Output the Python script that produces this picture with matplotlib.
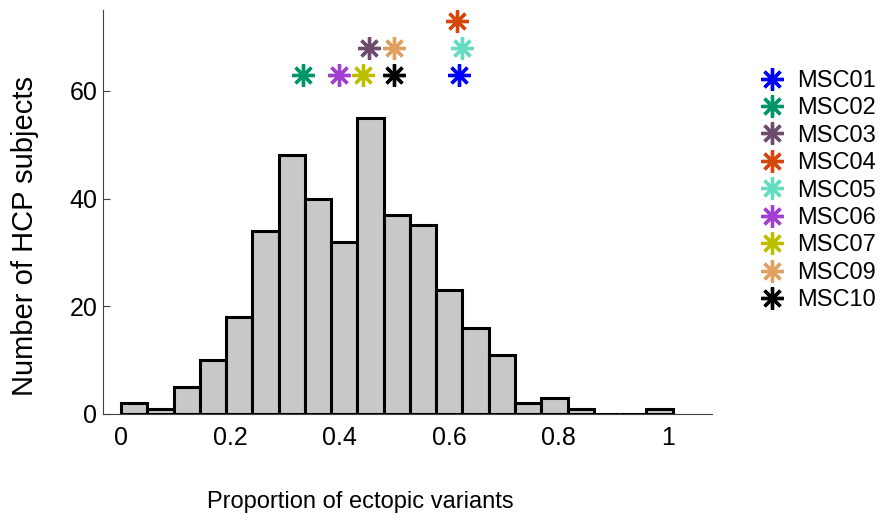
import matplotlib
matplotlib.use('Agg')
import matplotlib.pyplot as plt
import numpy as np

plt.rcParams['font.family'] = ['Liberation Sans', 'DejaVu Sans']

# Histogram of HCP subjects (bin width 0.048)
bin_width = 0.048
counts = [2, 1, 5, 10, 18, 34, 48, 40, 32, 55, 37, 35, 23, 16, 11, 2, 3, 1, 0, 0, 1]

# MSC subjects: proportion and stacked marker height
msc_names = ['MSC01', 'MSC02', 'MSC03', 'MSC04', 'MSC05',
             'MSC06', 'MSC07', 'MSC09', 'MSC10']
msc_values = [0.618, 0.333, 0.454, 0.614, 0.623, 0.399, 0.443, 0.499, 0.499]
msc_heights = [63, 63, 68, 73, 68, 63, 63, 68, 63]
msc_colors = ['#0000FF', '#00966A', '#6E4C6E', '#D5470D', '#66DCC2',
              '#A23FD0', '#BEBE00', '#E0A060', '#000000']

edges = np.arange(len(counts) + 1) * bin_width

fig = plt.figure(figsize=(8.94, 5.21), dpi=100)
ax = fig.add_axes([0.1152, 0.2054, 0.6812, 0.7754])

ax.bar(edges[:-1], counts, width=bin_width, align='edge',
       color='#C8C8C8', edgecolor='black', linewidth=2.2, zorder=3)

star = (8, 2, 0)
for name, val, h, col in zip(msc_names, msc_values, msc_heights, msc_colors):
    ax.plot([val], [h], linestyle='none', marker=star, markersize=16,
            markeredgewidth=2.4, color=col, label=name, zorder=4)

ax.set_xlim(-0.033, 1.08)
ax.set_ylim(0, 75)
ax.set_xticks([0, 0.2, 0.4, 0.6, 0.8, 1])
ax.set_xticklabels(['0', '0.2', '0.4', '0.6', '0.8', '1'])
ax.set_yticks([0, 20, 40, 60])

for side in ['top', 'right']:
    ax.spines[side].set_visible(False)
for side in ['left', 'bottom']:
    ax.spines[side].set_color('#404040')
    ax.spines[side].set_linewidth(0.8)

ax.tick_params(axis='y', direction='in', length=5, width=0.8,
               color='#404040', labelsize=18, pad=4)
ax.tick_params(axis='x', length=0, labelsize=18, pad=9)

ax.set_xlabel('Proportion of ectopic variants', fontsize=17)
ax.xaxis.set_label_coords(0.422, -0.19)
ax.set_ylabel('Number of HCP subjects', fontsize=21)
ax.yaxis.set_label_coords(-0.105, 0.44)

ax.legend(loc='upper left', bbox_to_anchor=(0.848, 0.866),
          bbox_transform=fig.transFigure, frameon=False, fontsize=17,
          handletextpad=0.45, labelspacing=0.23, borderpad=0,
          borderaxespad=0, handlelength=1.2)

fig.savefig('out.png', dpi=100)
